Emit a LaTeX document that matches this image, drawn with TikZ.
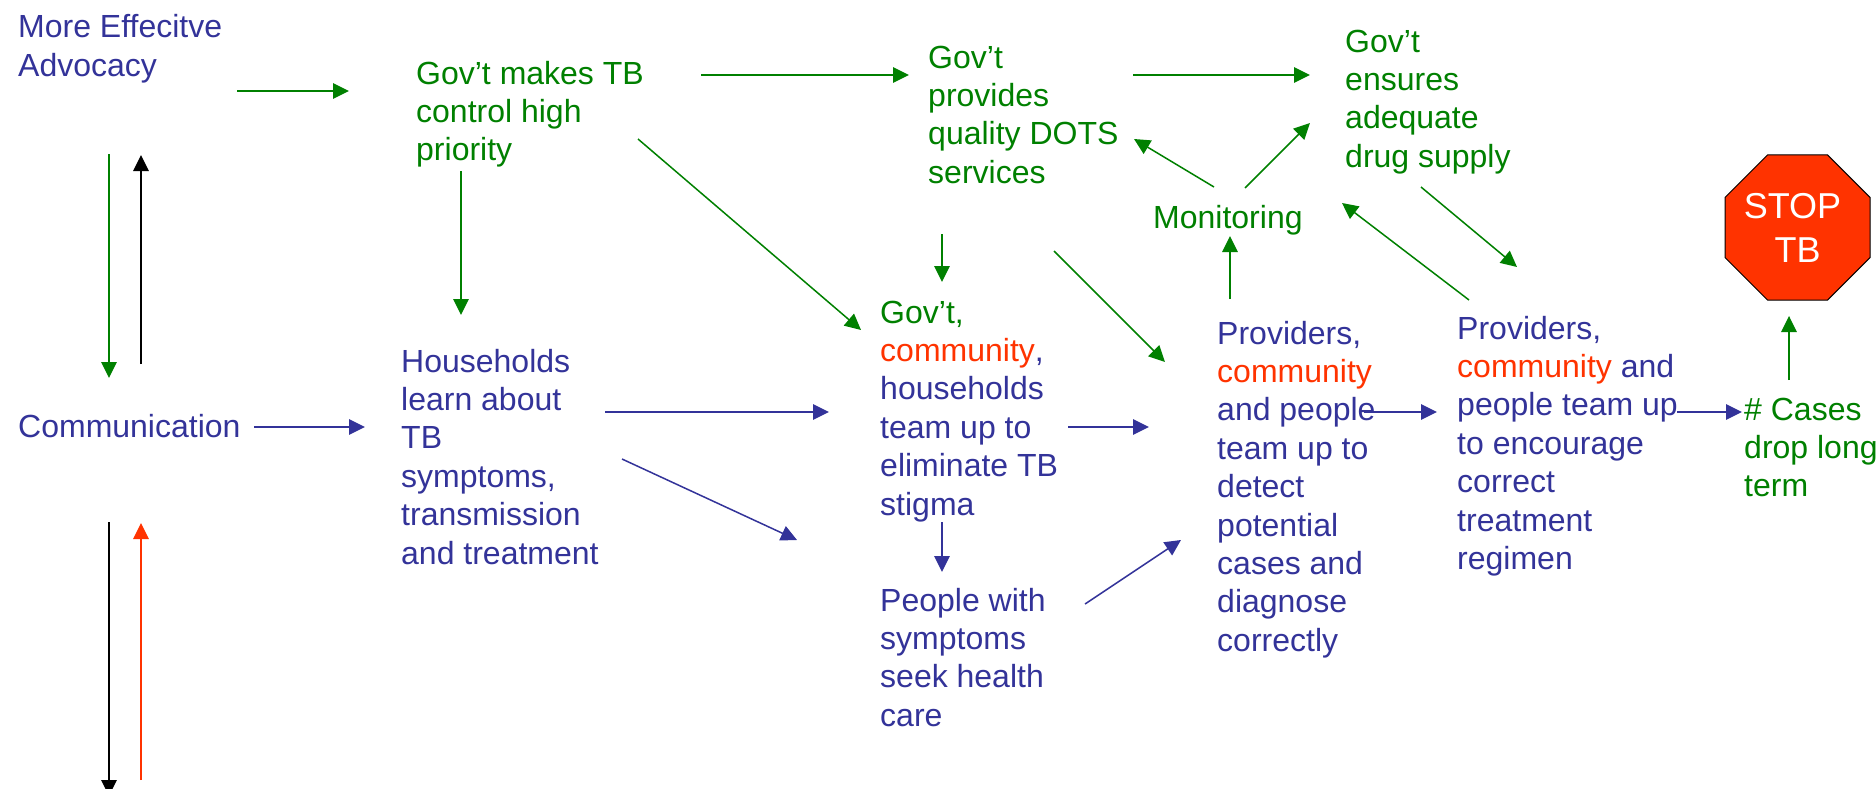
\documentclass[tikz,border=0pt]{standalone}
\usepackage{fontspec}
\setmainfont{Liberation Sans}
\usetikzlibrary{arrows.meta,shapes.geometric}
\definecolor{tbgreen}{HTML}{008000}
\definecolor{tbblue}{HTML}{333399}
\definecolor{tbred}{HTML}{FF3300}
\tikzset{
    label/.style={anchor=north west, inner sep=0pt, align=left, font=\fontsize{32}{38.4}\selectfont},
    greenlabel/.style={label, text=tbgreen},
    bluelabel/.style={label, text=tbblue},
    link/.style={line width=1.5pt, -{Triangle[length=16pt,width=15.5pt]}},
    greenlink/.style={link, tbgreen},
    bluelink/.style={link, tbblue},
    blacklink/.style={link, black},
    redlink/.style={link, tbred},
}
\begin{document}
\begin{tikzpicture}[x=1pt, y=-1pt]
    \useasboundingbox (0,0) rectangle (1876,789);

    \node[bluelabel] (advocacy) at (18,10) {\strut More Effecitve\\[1pt]Advocacy};
    \node[bluelabel] (communication) at (18,410) {\strut Communication};
    \node[greenlabel] (priority) at (416,57) {\strut Gov’t makes TB\\control high\\priority};
    \node[greenlabel] (dots) at (928,41) {\strut Gov’t\\provides\\quality DOTS\\services};
    \node[greenlabel] (drugs) at (1345,25) {\strut Gov’t\\ensures\\adequate\\drug supply};
    \node[greenlabel] (monitoring) at (1153,201) {\strut Monitoring};
    \node[bluelabel] (households) at (401,345) {\strut Households\\learn about\\TB\\symptoms,\\transmission\\and treatment};
    \node[bluelabel] (stigma) at (880,296) {\strut \textcolor{tbgreen}{Gov’t,}\\\textcolor{tbred}{community}, \\households\\team up to\\eliminate TB\\stigma};
    \node[bluelabel] (seek) at (880,584) {\strut People with\\symptoms\\seek health\\care};
    \node[bluelabel] (detect) at (1217,317) {\strut Providers,\\\textcolor{tbred}{community}\\and people\\team up to\\detect\\potential\\cases and\\diagnose\\correctly};
    \node[bluelabel] (regimen) at (1457,312) {\strut Providers,\\\textcolor{tbred}{community} and\\people team up\\to encourage\\correct\\treatment\\regimen};
    \node[greenlabel] (cases) at (1744,393) {\strut \# Cases\\drop long\\term};
    \node[draw=black, line width=1pt, fill=tbred, regular polygon, regular polygon sides=8, minimum size=157pt, inner sep=0pt] (stop) at (1797.5,227.5) {};
    \node[text=white, inner sep=0pt, align=center, font=\fontsize{36}{44}\selectfont] (stoptext) at (stop) {\mbox{STOP\ }\\TB};

    \coordinate (advocacy-out) at (237,91);
    \coordinate (priority-in) at (349,91);
    \coordinate (priority-out) at (701,75);
    \coordinate (dots-in) at (909,75);
    \coordinate (dots-out) at (1133,75);
    \coordinate (drugs-in) at (1310,75);
    \coordinate (priority-down) at (461,171);
    \coordinate (households-up) at (461,315);
    \coordinate (priority-side) at (638,139);
    \coordinate (stigma-up) at (861,330);
    \coordinate (dots-down) at (942,234);
    \coordinate (stigma-top) at (942,282);
    \coordinate (dots-side) at (1054,251);
    \coordinate (detect-up) at (1165,362);
    \coordinate (monitoring-left) at (1214,187);
    \coordinate (dots-back) at (1134,139);
    \coordinate (monitoring-right) at (1245,188);
    \coordinate (drugs-back) at (1310,123);
    \coordinate (detect-top) at (1230,299);
    \coordinate (monitoring-down) at (1230,236);
    \coordinate (regimen-back) at (1469,300);
    \coordinate (monitoring-side) at (1342,203);
    \coordinate (drugs-down) at (1421,187);
    \coordinate (regimen-up) at (1517,267);
    \coordinate (cases-top) at (1789,380);
    \coordinate (stop-down) at (1789,316);
    \coordinate (advocacy-down) at (109,154);
    \coordinate (communication-up) at (109,378);
    \coordinate (communication-top) at (141,364);
    \coordinate (advocacy-up) at (141,155);
    \coordinate (communication-down) at (109,522);
    \coordinate (bottom-end) at (109,796);
    \coordinate (bottom-start) at (141,780);
    \coordinate (communication-low) at (141,523);
    \coordinate (communication-out) at (254,427);
    \coordinate (households-in) at (365,427);
    \coordinate (households-out) at (605,412);
    \coordinate (stigma-in) at (829,412);
    \coordinate (households-low) at (622,459);
    \coordinate (seek-up) at (797,540);
    \coordinate (stigma-out) at (1068,427);
    \coordinate (detect-left) at (1149,427);
    \coordinate (stigma-down) at (942,522);
    \coordinate (seek-top) at (942,572);
    \coordinate (seek-out) at (1085,604);
    \coordinate (detect-low) at (1181,540);
    \coordinate (detect-out) at (1364,412);
    \coordinate (regimen-in) at (1437,412);
    \coordinate (regimen-out) at (1677,412);
    \coordinate (cases-in) at (1742,412);

    \draw[greenlink] (advocacy-out) -- (priority-in);
    \draw[greenlink] (priority-out) -- (dots-in);
    \draw[greenlink] (dots-out) -- (drugs-in);
    \draw[greenlink] (priority-down) -- (households-up);
    \draw[greenlink] (priority-side) -- (stigma-up);
    \draw[greenlink] (dots-down) -- (stigma-top);
    \draw[greenlink] (dots-side) -- (detect-up);
    \draw[greenlink] (monitoring-left) -- (dots-back);
    \draw[greenlink] (monitoring-right) -- (drugs-back);
    \draw[greenlink] (detect-top) -- (monitoring-down);
    \draw[greenlink] (regimen-back) -- (monitoring-side);
    \draw[greenlink] (drugs-down) -- (regimen-up);
    \draw[greenlink] (cases-top) -- (stop-down);
    \draw[greenlink] (advocacy-down) -- (communication-up);
    \draw[blacklink] (communication-top) -- (advocacy-up);
    \draw[blacklink] (communication-down) -- (bottom-end);
    \draw[redlink] (bottom-start) -- (communication-low);
    \draw[bluelink] (communication-out) -- (households-in);
    \draw[bluelink] (households-out) -- (stigma-in);
    \draw[bluelink] (households-low) -- (seek-up);
    \draw[bluelink] (stigma-out) -- (detect-left);
    \draw[bluelink] (stigma-down) -- (seek-top);
    \draw[bluelink] (seek-out) -- (detect-low);
    \draw[bluelink] (detect-out) -- (regimen-in);
    \draw[bluelink] (regimen-out) -- (cases-in);
\end{tikzpicture}
\end{document}
